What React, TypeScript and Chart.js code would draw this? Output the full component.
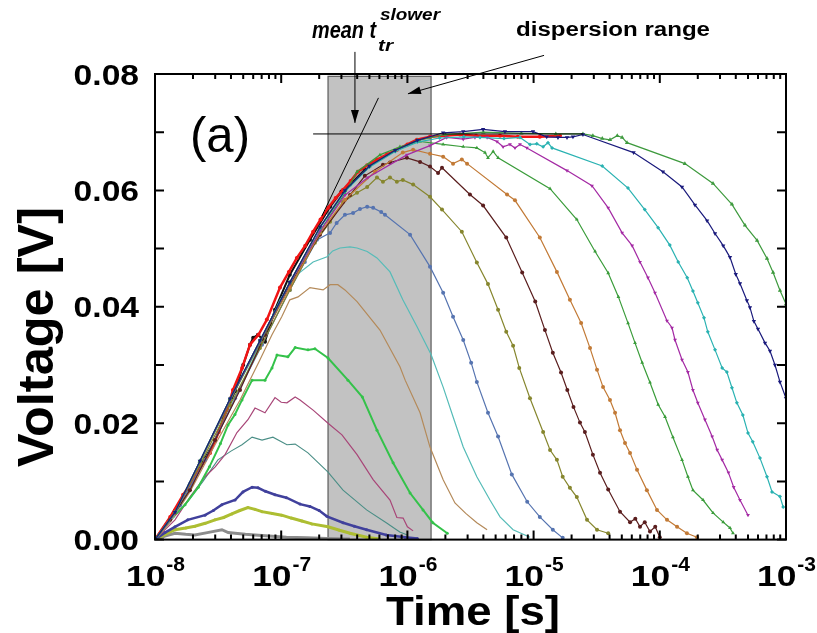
import React, { useEffect, useRef } from 'react';
import { Chart, registerables } from 'chart.js';

Chart.register(...registerables);

type P = [number, number];

// ---------- axes ----------
const xMin = 1e-8;
const xMax = 1e-3;
const yMin = 0;
const yMax = 0.08;
const yMajorTicks = [0, 0.02, 0.04, 0.06, 0.08];
const yMajorLabels = ['0.00', '0.02', '0.04', '0.06', '0.08'];
const yMinorTicks = [0.01, 0.03, 0.05, 0.07];
const xDecadeExponents = [-8, -7, -6, -5, -4, -3];
const xMinorMultipliers = [2, 3, 4, 5, 6, 7, 8, 9];

// ---------- annotations (data coordinates) ----------
const dispersionRange: P = [2.35e-7, 1.54e-6];
const dispersionTop = 0.0796;
const plateauLine: P[] = [[1.79e-7, 0.0697], [2.46e-5, 0.0697]];
const tangentLine: P[] = [[5.9e-7, 0.0759], [2.1e-7, 0.0556]];
const meanArrow: P[] = [[3.84e-7, 0.0838], [3.84e-7, 0.0716]];
const dispersionArrow: P[] = [[1.21e-5, 0.0832], [1.01e-6, 0.0766]];

// ---------- series (time [s], voltage [V]) ----------
const c01Gray: P[] = [[1e-8,0],[1.2e-8,0.0006],[1.44e-8,0.0011],[1.75e-8,0.0009],[2.07e-8,0.0008],[2.6e-8,0.0012],[3.39e-8,0.0017],[3.8e-8,0.0012],[4.31e-8,0.0011],[5.2e-8,0.0009],[6.2e-8,0.0008],[8e-8,0.0006],[1.1e-7,0.0004],[1.6e-7,0.0003],[2.3e-7,0.0002],[3.5e-7,0.0001]];
const c02Yellow: P[] = [[1e-8,0],[1.2e-8,0.0009],[1.44e-8,0.0017],[1.75e-8,0.0020],[2.07e-8,0.0023],[2.5e-8,0.0028],[2.99e-8,0.0034],[3.5e-8,0.0038],[4.06e-8,0.0044],[4.7e-8,0.0050],[5.45e-8,0.0055],[6.2e-8,0.0052],[7.05e-8,0.0048],[8.5e-8,0.0045],[1.01e-7,0.0042],[1.2e-7,0.0037],[1.46e-7,0.0032],[1.75e-7,0.0027],[2.35e-7,0.0022],[2.9e-7,0.0016],[3.51e-7,0.0011],[4.75e-7,0.0004],[6e-7,0.0001]];
const c03Indigo: P[] = [[1e-8,0],[1.2e-8,0.0012],[1.44e-8,0.0022],[1.82e-8,0.0034],[2.49e-8,0.0042],[2.9e-8,0.0050],[3.39e-8,0.0060],[4.31e-8,0.0068],[4.98e-8,0.0082],[5.88e-8,0.0090],[6.55e-8,0.0089],[7.5e-8,0.0083],[8.93e-8,0.0077],[1.1e-7,0.0072],[1.41e-7,0.0061],[1.69e-7,0.0057],[2.0e-7,0.0050],[2.3e-7,0.0040],[3.09e-7,0.0029],[3.8e-7,0.0023],[4.75e-7,0.0017],[6.8e-7,0.0008],[9.6e-7,0.0004],[1.2e-6,0.0002]];
const c04Teal: P[] = [[1e-8,0],[1.3e-8,0.0030],[1.82e-8,0.0065],[2.4e-8,0.0100],[3.15e-8,0.0137],[4.0e-8,0.0152],[4.89e-8,0.0163],[5.88e-8,0.0176],[7.05e-8,0.0171],[8.6e-8,0.0176],[1.11e-7,0.0163],[1.29e-7,0.0164],[1.63e-7,0.0149],[2.35e-7,0.0116],[3.09e-7,0.0085],[4.75e-7,0.0051],[6.8e-7,0.0029],[8.7e-7,0.0013],[1.0e-6,0.0008]];
const c05Pink: P[] = [[1e-8,0],[1.44e-8,0.0034],[1.89e-8,0.0073],[2.49e-8,0.0108],[3.0e-8,0.0125],[3.59e-8,0.0146],[4.46e-8,0.0184],[5.45e-8,0.0206],[6.2e-8,0.0226],[7.44e-8,0.0218],[8.93e-8,0.0244],[1.0e-7,0.0236],[1.11e-7,0.0235],[1.29e-7,0.0245],[1.41e-7,0.0240],[1.8e-7,0.0222],[2.35e-7,0.0200],[3.03e-7,0.0180],[3.99e-7,0.0146],[5.35e-7,0.0103],[7.28e-7,0.0068],[8.25e-7,0.0038],[9.25e-7,0.0037],[1.0e-6,0.0022],[1.11e-6,0.0015]];
const c06Green: P[] = [[1e-8,0],[1.4e-8,0.0040],[1.73e-8,0.0060],[2.2e-8,0.0090],[2.7e-8,0.0125],[3.3e-8,0.0165],[3.79e-8,0.0197],[4.3e-8,0.0215],[4.89e-8,0.0240],[5.88e-8,0.0274],[7.44e-8,0.0274],[8.45e-8,0.0295],[9.26e-8,0.0317],[1.13e-7,0.0314],[1.29e-7,0.0330],[1.63e-7,0.0326],[1.85e-7,0.0328],[2.35e-7,0.0312],[3.38e-7,0.0274],[4.4e-7,0.0245],[5.74e-7,0.0188],[7.7e-7,0.0132],[1.05e-6,0.0080],[1.33e-6,0.0051],[1.59e-6,0.0029],[2.07e-6,0.0011]];
const c07Tan: P[] = [[1e-8,0],[1.32e-8,0.0030],[1.89e-8,0.0082],[2.99e-8,0.0163],[4.72e-8,0.0240],[6.79e-8,0.0309],[8.45e-8,0.0352],[1.01e-7,0.0383],[1.17e-7,0.0412],[1.36e-7,0.0417],[1.69e-7,0.0433],[2.15e-7,0.0429],[2.44e-7,0.0438],[2.81e-7,0.0438],[3.2e-7,0.0429],[3.99e-7,0.0409],[6.06e-7,0.0360],[8.73e-7,0.0297],[9.6e-7,0.0274],[1.26e-6,0.0218],[1.51e-6,0.0159],[1.92e-6,0.0103],[2.38e-6,0.0063],[2.9e-6,0.0045],[3.55e-6,0.0029],[4.28e-6,0.0017]];
const c08Turquoise: P[] = [[1e-8,0],[1.44e-8,0.0043],[2.27e-8,0.0120],[3.93e-8,0.0223],[6.2e-8,0.0317],[9.78e-8,0.0412],[1.33e-7,0.0455],[1.79e-7,0.0477],[2.31e-7,0.0486],[2.56e-7,0.0496],[2.92e-7,0.0501],[3.51e-7,0.0503],[3.99e-7,0.0501],[4.8e-7,0.0495],[5.74e-7,0.0484],[7.28e-7,0.0460],[9.2e-7,0.0412],[1.19e-6,0.0366],[1.54e-6,0.0318],[1.92e-6,0.0262],[2.3e-6,0.0211],[2.77e-6,0.0159],[3.55e-6,0.0108],[4.51e-6,0.0068],[5.42e-6,0.0039],[6.88e-6,0.0017],[9.36e-6,0.0004]];
const c09Steel: P[] = [[1e-8,0],[1.58e-8,0.0059],[2.49e-8,0.0137],[4.31e-8,0.0243],[7.05e-8,0.0335],[1.17e-7,0.0429],[1.54e-7,0.0477],[1.92e-7,0.0515],[2.44e-7,0.0527],[2.75e-7,0.0544],[3.2e-7,0.0558],[3.71e-7,0.0561],[4.21e-7,0.0568],[4.8e-7,0.0572],[5.35e-7,0.0570],[6.2e-7,0.0563],[6.64e-7,0.0558],[1.05e-6,0.0524],[1.51e-6,0.0469],[1.92e-6,0.0424],[2.3e-6,0.0383],[2.77e-6,0.0343],[3.2e-6,0.0304],[3.55e-6,0.0271],[4.35e-6,0.0218],[5.23e-6,0.0177],[6.72e-6,0.0112],[8.9e-6,0.0065],[1.12e-5,0.0039],[1.42e-5,0.0017],[1.7e-5,0.0003]];
const c10Olive: P[] = [[1e-8,0],[1.44e-8,0.0047],[2.27e-8,0.0128],[3.93e-8,0.0231],[6.79e-8,0.0329],[1.17e-7,0.0429],[1.85e-7,0.0510],[2.44e-7,0.0546],[3.09e-7,0.0580],[3.99e-7,0.0596],[4.8e-7,0.0606],[5.74e-7,0.0622],[6.4e-7,0.0615],[7.28e-7,0.0622],[8.25e-7,0.0615],[9.2e-7,0.0618],[1.11e-6,0.0610],[1.51e-6,0.0589],[1.88e-6,0.0567],[2.7e-6,0.0529],[3.55e-6,0.0476],[4.35e-6,0.0439],[5.23e-6,0.0395],[6.07e-6,0.0357],[6.88e-6,0.0333],[7.7e-6,0.0295],[9.36e-6,0.0243],[1.19e-5,0.0185],[1.35e-5,0.0154],[1.53e-5,0.0137],[1.7e-5,0.0108],[1.94e-5,0.0089],[2.2e-5,0.0073],[2.65e-5,0.0034],[3.18e-5,0.0017],[3.9e-5,0.0011]];
const c11Maroon: P[] = [[1e-8,0],[1.32e-8,0.0034],[1.89e-8,0.0085],[2.99e-8,0.0171],[4.72e-8,0.0257],[7.44e-8,0.0352],[1.17e-7,0.0438],[2.03e-7,0.0524],[3.51e-7,0.0592],[4.6e-7,0.0625],[6.4e-7,0.0644],[7.28e-7,0.0648],[9.9e-7,0.0656],[1.26e-6,0.0649],[1.51e-6,0.0641],[1.75e-6,0.0630],[1.88e-6,0.0639],[3.13e-6,0.0593],[3.98e-6,0.0574],[6.07e-6,0.0519],[8.12e-6,0.0459],[1.03e-5,0.0409],[1.23e-5,0.0360],[1.42e-5,0.0321],[1.65e-5,0.0287],[1.85e-5,0.0257],[2.07e-5,0.0228],[2.33e-5,0.0201],[2.55e-5,0.0185],[2.95e-5,0.0146],[3.36e-5,0.0115],[3.9e-5,0.0086],[4.84e-5,0.0048],[5.81e-5,0.0030],[6.4e-5,0.0036],[6.97e-5,0.0022],[7.6e-5,0.0030],[8.36e-5,0.0014],[9.2e-5,0.0022],[1.0e-4,0.0004]];
const c12Orange: P[] = [[1e-8,0],[1.44e-8,0.0045],[2.27e-8,0.0133],[3.93e-8,0.0240],[6.79e-8,0.0340],[1.17e-7,0.0433],[2.03e-7,0.0527],[3.2e-7,0.0584],[5.54e-7,0.0632],[9.2e-7,0.0665],[1.11e-6,0.0670],[1.51e-6,0.0663],[1.92e-6,0.0658],[2.3e-6,0.0646],[2.7e-6,0.0653],[2.97e-6,0.0646],[6.16e-6,0.0593],[7.12e-6,0.0583],[1.12e-5,0.0519],[1.53e-5,0.0460],[1.94e-5,0.0412],[2.38e-5,0.0372],[2.8e-5,0.0329],[3.18e-5,0.0292],[3.55e-5,0.0262],[4.03e-5,0.0240],[4.42e-5,0.0218],[4.84e-5,0.0188],[5.3e-5,0.0166],[5.81e-5,0.0149],[6.6e-5,0.0120],[7.9e-5,0.0085],[9.5e-5,0.0051],[1.14e-4,0.0034],[1.37e-4,0.0022],[1.64e-4,0.0011],[1.97e-4,0.0004]];
const c13Green: P[] = [[1e-8,0],[1.44e-8,0.0046],[2.27e-8,0.0133],[3.93e-8,0.0238],[6.79e-8,0.0338],[1.17e-7,0.0440],[2.03e-7,0.0530],[3.2e-7,0.0595],[3.99e-7,0.0632],[6.06e-7,0.0661],[8.73e-7,0.0675],[1.26e-6,0.0684],[1.92e-6,0.0679],[2.77e-6,0.0675],[3.55e-6,0.0673],[4.12e-6,0.0665],[4.35e-6,0.0656],[4.78e-6,0.0667],[5.23e-6,0.0656],[1.35e-5,0.0603],[2.2e-5,0.0550],[3.07e-5,0.0495],[3.9e-5,0.0458],[4.7e-5,0.0417],[5.6e-5,0.0372],[6.36e-5,0.0338],[7.25e-5,0.0304],[8.36e-5,0.0270],[9.7e-5,0.0232],[1.1e-4,0.0211],[1.27e-4,0.0176],[1.5e-4,0.0137],[1.67e-4,0.0108],[1.83e-4,0.0085],[2.2e-4,0.0068],[2.64e-4,0.0046],[3.18e-4,0.0030],[3.6e-4,0.0020],[3.8e-4,0.0011]];
const c14Magenta: P[] = [[1e-8,0],[1.44e-8,0.0046],[2.27e-8,0.0134],[3.93e-8,0.0240],[6.79e-8,0.0340],[1.17e-7,0.0440],[2.03e-7,0.0530],[3.2e-7,0.0592],[4.86e-7,0.0622],[9.9e-7,0.0661],[1.51e-6,0.0677],[2.05e-6,0.0691],[2.77e-6,0.0688],[3.43e-6,0.0691],[4.28e-6,0.0691],[5.13e-6,0.0684],[5.73e-6,0.0675],[6.5e-6,0.0679],[7.12e-6,0.0673],[7.8e-6,0.0679],[8.85e-6,0.0673],[1.84e-5,0.0634],[2.9e-5,0.0608],[3.9e-5,0.0570],[5.03e-5,0.0527],[6.04e-5,0.0505],[6.97e-5,0.0477],[8.06e-5,0.0450],[9.16e-5,0.0424],[1.14e-4,0.0376],[1.25e-4,0.0364],[1.32e-4,0.0343],[1.5e-4,0.0309],[1.67e-4,0.0288],[1.83e-4,0.0257],[2.0e-4,0.0235],[2.28e-4,0.0206],[2.6e-4,0.0177],[2.85e-4,0.0154],[3.12e-4,0.0137],[3.5e-4,0.0115],[3.85e-4,0.0090],[4.32e-4,0.0068],[5.0e-4,0.0042]];
const c15Cyan: P[] = [[1e-8,0],[1.44e-8,0.0047],[2.27e-8,0.0135],[3.93e-8,0.0242],[6.79e-8,0.0342],[1.17e-7,0.0442],[2.03e-7,0.0535],[3.2e-7,0.0598],[5.0e-7,0.0640],[8.0e-7,0.0667],[1.2e-6,0.0683],[1.8e-6,0.0690],[2.8e-6,0.0692],[3.76e-6,0.0691],[5.83e-6,0.0689],[7.8e-6,0.0691],[9.36e-6,0.0679],[1.06e-5,0.0680],[1.19e-5,0.0675],[1.3e-5,0.0682],[1.4e-5,0.0673],[3.5e-5,0.0642],[5.6e-5,0.0604],[7.6e-5,0.0567],[9.7e-5,0.0536],[1.2e-4,0.0506],[1.4e-4,0.0477],[1.65e-4,0.0450],[1.83e-4,0.0427],[2.0e-4,0.0407],[2.24e-4,0.0381],[2.4e-4,0.0357],[2.74e-4,0.0326],[3.12e-4,0.0295],[3.4e-4,0.0288],[3.73e-4,0.0261],[4.08e-4,0.0235],[4.55e-4,0.0214],[5.0e-4,0.0183],[5.45e-4,0.0168],[6.22e-4,0.0140],[7.07e-4,0.0108],[7.75e-4,0.0082],[8.96e-4,0.0074],[9.5e-4,0.0056]];
const c16Navy: P[] = [[1e-8,0],[1.44e-8,0.0047],[2.27e-8,0.0135],[3.93e-8,0.0242],[6.79e-8,0.0342],[1.17e-7,0.0442],[2.03e-7,0.0537],[3.2e-7,0.0600],[5.0e-7,0.0642],[8.0e-7,0.0669],[1.2e-6,0.0686],[1.92e-6,0.0699],[2.77e-6,0.0701],[3.98e-6,0.0705],[5.93e-6,0.0701],[9.9e-6,0.0701],[1.27e-5,0.0692],[1.56e-5,0.0691],[1.84e-5,0.0691],[2.05e-5,0.0692],[2.46e-5,0.0696],[6.2e-5,0.0665],[1.06e-4,0.0632],[1.5e-4,0.0606],[1.9e-4,0.0575],[2.37e-4,0.0548],[2.74e-4,0.0526],[3.18e-4,0.0505],[3.6e-4,0.0485],[4.0e-4,0.0456],[4.32e-4,0.0440],[4.9e-4,0.0411],[5.18e-4,0.0399],[5.57e-4,0.0375],[6.0e-4,0.0362],[6.82e-4,0.0338],[7.47e-4,0.0324],[8.18e-4,0.0300],[8.96e-4,0.0271],[1.0e-3,0.0243]];
const c17Green: P[] = [[1e-8,0],[1.44e-8,0.0047],[2.27e-8,0.0135],[3.93e-8,0.0242],[6.79e-8,0.0342],[1.17e-7,0.0442],[2.03e-7,0.0537],[3.2e-7,0.0600],[5.0e-7,0.0642],[8.0e-7,0.0669],[1.2e-6,0.0686],[2.0e-6,0.0696],[4.0e-6,0.0700],[8.0e-6,0.0698],[1.5e-5,0.0697],[2.46e-5,0.0697],[2.95e-5,0.0694],[3.5e-5,0.0689],[4.03e-5,0.0687],[4.6e-5,0.0694],[5.03e-5,0.0691],[5.5e-5,0.0682],[1.58e-4,0.0646],[2.64e-4,0.0612],[3.73e-4,0.0576],[4.73e-4,0.0540],[5.9e-4,0.0514],[7.07e-4,0.0483],[7.9e-4,0.0459],[8.96e-4,0.0428],[1.0e-3,0.0405]];
const cRedEnvelope: P[] = [[1e-8,0],[1.32e-8,0.0039],[1.67e-8,0.0077],[2.0e-8,0.0103],[2.73e-8,0.0149],[3.2e-8,0.0185],[3.72e-8,0.0223],[4.15e-8,0.0257],[4.9e-8,0.0295],[5.66e-8,0.0335],[6.6e-8,0.0352],[7.7e-8,0.0378],[9.78e-8,0.0433],[1.15e-7,0.0460],[1.33e-7,0.0484],[1.55e-7,0.0505],[1.79e-7,0.0529],[2.05e-7,0.0550],[2.35e-7,0.0570],[2.7e-7,0.0587],[3.09e-7,0.0601],[3.55e-7,0.0616],[4.06e-7,0.0632],[4.8e-7,0.0643],[5.74e-7,0.0653],[6.9e-7,0.0662],[8.27e-7,0.0670],[1.0e-6,0.0679],[1.19e-6,0.0687],[1.51e-6,0.0692],[2.0e-6,0.0694],[2.61e-6,0.0696],[3.5e-6,0.0694],[5.42e-6,0.0694],[7.5e-6,0.0692],[1.12e-5,0.0692],[1.62e-5,0.0694]];
const cBlack: P[] = [[1e-8,0],[1.44e-8,0.0050],[1.89e-8,0.0095],[2.49e-8,0.0140],[2.99e-8,0.0170],[3.5e-8,0.0210],[4.31e-8,0.0255],[5.0e-8,0.0300],[5.66e-8,0.0335],[6.0e-8,0.0347],[6.55e-8,0.0352],[7.05e-8,0.0345],[7.44e-8,0.0340],[8.2e-8,0.0370],[8.93e-8,0.0395],[1.17e-7,0.0455],[1.69e-7,0.0515],[2.44e-7,0.0572],[3.0e-7,0.0598],[3.51e-7,0.0610],[4.61e-7,0.0636]];

type SeriesStyle = { data: P[]; color: string; width: number; radius: number; style?: string; rot?: number };

const seriesList: SeriesStyle[] = [
  { data: c16Navy, color: '#1a1a7c', width: 1.2, radius: 2.5, style: 'triangle', rot: 180 },
  { data: c17Green, color: '#3e9a3e', width: 1.2, radius: 2.5, style: 'triangle' },
  { data: c15Cyan, color: '#2ab2b2', width: 1.2, radius: 2, style: 'rectRot' },
  { data: c14Magenta, color: '#a42aa4', width: 1.2, radius: 2.2, style: 'triangle', rot: 180 },
  { data: c13Green, color: '#3a9c3a', width: 1.2, radius: 2.2, style: 'triangle' },
  { data: c12Orange, color: '#c27a36', width: 1.2, radius: 2 },
  { data: c11Maroon, color: '#5a1e1e', width: 1.2, radius: 2 },
  { data: c10Olive, color: '#86862e', width: 1.2, radius: 2 },
  { data: c09Steel, color: '#5674b0', width: 1.2, radius: 2 },
  { data: c08Turquoise, color: '#56bcb8', width: 1.2, radius: 0 },
  { data: c07Tan, color: '#b48a5a', width: 1.2, radius: 0 },
  { data: c06Green, color: '#34c24a', width: 2, radius: 1.5 },
  { data: c05Pink, color: '#a84678', width: 1.2, radius: 0 },
  { data: c04Teal, color: '#4a8e86', width: 1.1, radius: 0 },
  { data: c03Indigo, color: '#40409c', width: 2.5, radius: 1.5 },
  { data: c02Yellow, color: '#adbe32', width: 3, radius: 1.5 },
  { data: c01Gray, color: '#8c8c8c', width: 3, radius: 0 },
  { data: cRedEnvelope, color: '#f01414', width: 2.5, radius: 2 },
  { data: cBlack, color: '#111111', width: 2, radius: 2 },
];

const FONT = '"Liberation Sans", Arial, Helvetica, sans-serif';

function drawText(
  ctx: CanvasRenderingContext2D,
  s: string,
  x: number,
  y: number,
  font: string,
  align: 'left' | 'center' | 'right',
  opts: { width?: number; sx?: number } = {}
): number {
  ctx.save();
  ctx.font = font;
  const w = ctx.measureText(s).width;
  const sx = opts.width ? opts.width / w : opts.sx ?? 1;
  const W = w * sx;
  let x0 = x;
  if (align === 'center') x0 = x - W / 2;
  else if (align === 'right') x0 = x - W;
  ctx.translate(x0, y);
  ctx.scale(sx, 1);
  ctx.textAlign = 'left';
  ctx.textBaseline = 'alphabetic';
  ctx.fillStyle = '#000';
  ctx.fillText(s, 0, 0);
  ctx.restore();
  return W;
}

function arrowHead(ctx: CanvasRenderingContext2D, x0: number, y0: number, x1: number, y1: number, len: number, half: number) {
  const a = Math.atan2(y1 - y0, x1 - x0);
  const bx = x1 - len * Math.cos(a);
  const by = y1 - len * Math.sin(a);
  const nx = -Math.sin(a) * half;
  const ny = Math.cos(a) * half;
  ctx.beginPath();
  ctx.moveTo(x1, y1);
  ctx.lineTo(bx + nx, by + ny);
  ctx.lineTo(bx - nx, by - ny);
  ctx.closePath();
  ctx.fill();
}

const decorPlugin = {
  id: 'decor',
  beforeDatasetsDraw(chart: any) {
    const { ctx, scales } = chart;
    const xs = scales.x;
    const ys = scales.y;
    const x0 = xs.getPixelForValue(dispersionRange[0]);
    const x1 = xs.getPixelForValue(dispersionRange[1]);
    const yb = ys.getPixelForValue(0);
    const yt = ys.getPixelForValue(dispersionTop);
    ctx.save();
    ctx.fillStyle = '#c2c2c2';
    ctx.fillRect(x0, yt, x1 - x0, yb - yt);
    ctx.strokeStyle = '#5c5c5c';
    ctx.lineWidth = 1.2;
    ctx.strokeRect(x0, yt, x1 - x0, yb - yt);
    ctx.restore();
  },
  afterDatasetsDraw(chart: any) {
    const { ctx, scales, chartArea } = chart;
    const xs = scales.x;
    const ys = scales.y;
    const px = (v: number) => xs.getPixelForValue(v);
    const py = (v: number) => ys.getPixelForValue(v);
    const { left, right, top, bottom } = chartArea;

    ctx.save();
    ctx.strokeStyle = '#000';
    ctx.fillStyle = '#000';

    // annotation lines
    ctx.lineWidth = 1;
    const seg = (pts: P[]) => {
      ctx.beginPath();
      ctx.moveTo(px(pts[0][0]), py(pts[0][1]));
      ctx.lineTo(px(pts[1][0]), py(pts[1][1]));
      ctx.stroke();
    };
    seg(plateauLine);
    seg(tangentLine);
    seg(meanArrow);
    seg(dispersionArrow);
    arrowHead(ctx, px(meanArrow[0][0]), py(meanArrow[0][1]), px(meanArrow[1][0]), py(meanArrow[1][1]), 13, 4);
    arrowHead(ctx, px(dispersionArrow[0][0]), py(dispersionArrow[0][1]), px(dispersionArrow[1][0]), py(dispersionArrow[1][1]), 13, 4);

    // frame
    ctx.lineWidth = 2;
    ctx.strokeRect(left, top, right - left, bottom - top);

    // y ticks (left & right, inward)
    ctx.lineWidth = 2;
    [...yMajorTicks, ...yMinorTicks].forEach((v) => {
      const y = py(v);
      ctx.beginPath();
      ctx.moveTo(left, y);
      ctx.lineTo(left + 9, y);
      ctx.moveTo(right, y);
      ctx.lineTo(right - 9, y);
      ctx.stroke();
    });
    // x ticks (bottom & top, inward)
    xDecadeExponents.forEach((e) => {
      const x = px(Math.pow(10, e));
      ctx.beginPath();
      ctx.moveTo(x, bottom);
      ctx.lineTo(x, bottom - 9);
      ctx.moveTo(x, top);
      ctx.lineTo(x, top + 9);
      ctx.stroke();
      if (e < -3) {
        xMinorMultipliers.forEach((m) => {
          const xm = px(m * Math.pow(10, e));
          ctx.beginPath();
          ctx.moveTo(xm, bottom);
          ctx.lineTo(xm, bottom - 5);
          ctx.moveTo(xm, top);
          ctx.lineTo(xm, top + 5);
          ctx.stroke();
        });
      }
    });
    ctx.restore();

    // y tick labels
    yMajorTicks.forEach((v, i) => {
      drawText(ctx, yMajorLabels[i], left - 16, py(v) + 10.5, `bold 30px ${FONT}`, 'right', { sx: 1.12 });
    });
    // x tick labels 10^e
    xDecadeExponents.forEach((e) => {
      const x = px(Math.pow(10, e));
      ctx.save();
      ctx.font = `bold 30px ${FONT}`;
      const wb = ctx.measureText('10').width * 1.18;
      ctx.font = `bold 20px ${FONT}`;
      const we = ctx.measureText(String(e)).width * 1.05;
      ctx.restore();
      const x0 = x - (wb + we) / 2;
      drawText(ctx, '10', x0, 586, `bold 30px ${FONT}`, 'left', { sx: 1.18 });
      drawText(ctx, String(e), x0 + wb + 1, 571, `bold 20px ${FONT}`, 'left', { sx: 1.05 });
    });

    // axis titles
    drawText(ctx, 'Time [s]', 473, 625, `bold 40px ${FONT}`, 'center', { width: 174 });
    ctx.save();
    ctx.translate(53, 337);
    ctx.rotate(-Math.PI / 2);
    drawText(ctx, 'Voltage [V]', 0, 0, `bold 50px ${FONT}`, 'center', { width: 260 });
    ctx.restore();

    // panel label and annotations text
    drawText(ctx, '(a)', 190, 152, `50px ${FONT}`, 'left', { width: 60 });
    drawText(ctx, 'mean t', 312, 38, `italic bold 24px ${FONT}`, 'left', { width: 64 });
    drawText(ctx, 'slower', 380, 20, `italic bold 16px ${FONT}`, 'left', { width: 60 });
    drawText(ctx, 'tr', 378, 51, `italic bold 16px ${FONT}`, 'left', { width: 15 });
    drawText(ctx, 'dispersion range', 516, 36, `bold 20px ${FONT}`, 'left', { width: 194 });
  },
};

export default function App() {
  const ref = useRef<HTMLCanvasElement | null>(null);
  useEffect(() => {
    const canvas = ref.current;
    if (!canvas) return;
    const datasets = seriesList.map((s) => ({
      data: s.data.map(([x, y]) => ({ x, y })),
      borderColor: s.color,
      backgroundColor: s.color,
      borderWidth: s.width,
      pointRadius: s.radius,
      pointBorderWidth: 0,
      pointStyle: (s.style ?? 'circle') as any,
      pointRotation: s.rot ?? 0,
      showLine: true,
      tension: 0,
      fill: false,
    }));
    const chart = new Chart(canvas, {
      type: 'scatter',
      data: { datasets },
      options: {
        animation: false,
        responsive: false,
        devicePixelRatio: 1,
        events: [],
        layout: { padding: { top: 74, right: 31, left: 0, bottom: 0 } },
        plugins: { legend: { display: false }, tooltip: { enabled: false } },
        scales: {
          x: {
            type: 'logarithmic',
            min: xMin,
            max: xMax,
            grid: { display: false },
            border: { display: false },
            ticks: { display: false },
            afterFit: (s: any) => {
              s.height = 93.4;
            },
          },
          y: {
            type: 'linear',
            min: yMin,
            max: yMax,
            grid: { display: false },
            border: { display: false },
            ticks: { display: false },
            afterFit: (s: any) => {
              s.width = 155;
            },
          },
        },
      } as any,
      plugins: [decorPlugin],
    });
    if ((document as any).fonts) {
      Promise.all([
        (document as any).fonts.load(`bold 30px "Liberation Sans"`),
        (document as any).fonts.load(`italic bold 20px "Liberation Sans"`),
        (document as any).fonts.load(`30px "Liberation Sans"`),
      ])
        .then(() => chart.draw())
        .catch(() => {});
    }
    return () => chart.destroy();
  }, []);
  return (
    <div style={{ position: 'absolute', left: 0, top: 0, width: 817, height: 633, background: '#fff' }}>
      <canvas ref={ref} width={817} height={633} style={{ display: 'block' }} />
    </div>
  );
}
